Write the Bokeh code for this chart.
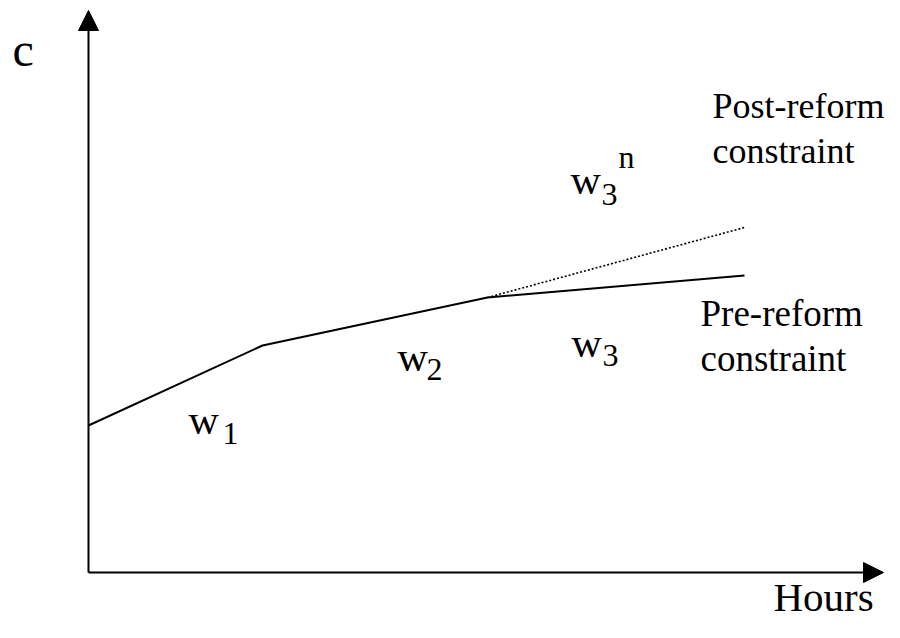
from bokeh.plotting import figure
from bokeh.models import Range1d, Arrow, NormalHead
from bokeh.core.properties import value
from bokeh.embed import file_html
from bokeh.resources import INLINE

# Budget constraint (hours vs consumption), in abstract units
hours_pre = [0, 17.4, 39.9, 65.6]
cons_pre = [14.7, 22.7, 27.5, 29.7]
hours_post = [39.9, 65.6]
cons_post = [27.5, 34.5]

axis_max_x = 79.5
axis_max_y = 56.2

FONT = value("Liberation Serif")

p = figure(width=884, height=622, x_range=Range1d(-8.8, 79.6), y_range=Range1d(-5.0, 57.2),
           output_backend="svg", toolbar_location=None, min_border=0,
           x_axis_type=None, y_axis_type=None)
p.grid.visible = False
p.outline_line_color = None
p.background_fill_color = "white"
p.border_fill_color = "white"

# axes as arrows
p.add_layout(Arrow(end=NormalHead(size=20, fill_color="black", line_color="black", line_width=1),
                   x_start=0, y_start=0, x_end=0, y_end=axis_max_y,
                   line_color="black", line_width=2))
p.add_layout(Arrow(end=NormalHead(size=20, fill_color="black", line_color="black", line_width=1),
                   x_start=0, y_start=0, x_end=axis_max_x, y_end=0,
                   line_color="black", line_width=2))

p.line(hours_pre, cons_pre, line_color="black", line_width=2)
p.line(hours_post, cons_post, line_color="black", line_width=1.6, line_dash="2 2")

def txt(xs, ys, texts, size_px):
    # compensate for the renderer's baseline shift (about a third of the font size)
    shift = 0.33 * size_px / 10.0
    p.text(x=xs, y=[y + shift for y in ys], text=texts, text_font=FONT,
           text_font_size=f"{size_px}px",
           text_baseline="alphabetic", text_align="left", text_color="black")

# axis labels
txt([-7.6], [50.7], ["c"], 48)
txt([68.5], [-3.8], ["Hours"], 41)

# wage labels
txt([10.0, 30.9, 48.3, 48.2], [13.9, 20.2, 21.6, 37.9], ["w", "w", "w", "w"], 42)
txt([13.4, 33.8, 51.4, 51.3], [12.8, 19.2, 20.6, 36.7], ["1", "2", "3", "3"], 32)
txt([53.0], [40.5], ["n"], 32)

# constraint labels
txt([62.4, 62.4], [45.5, 41.0], ["Post-reform", "constraint"], 36)
txt([61.2, 61.2], [24.7, 20.2], ["Pre-reform", "constraint"], 37)

open("out.html", "w").write(file_html(p, INLINE))
